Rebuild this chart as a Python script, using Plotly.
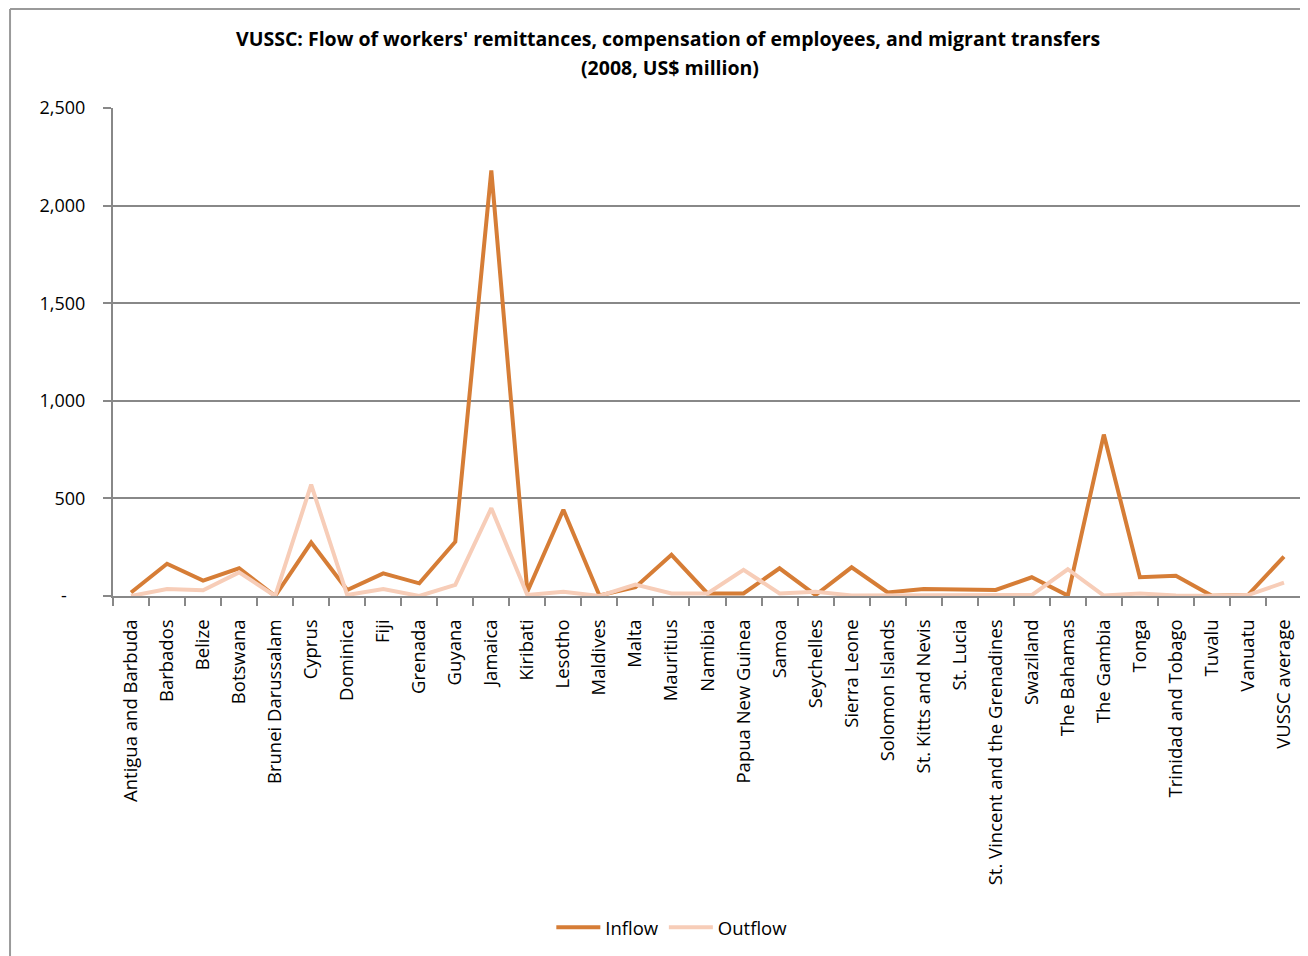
import plotly.graph_objects as go

countries = [
    "Antigua and Barbuda", "Barbados", "Belize", "Botswana", "Brunei Darussalam",
    "Cyprus", "Dominica", "Fiji", "Grenada", "Guyana", "Jamaica", "Kiribati",
    "Lesotho", "Maldives", "Malta", "Mauritius", "Namibia", "Papua New Guinea",
    "Samoa", "Seychelles", "Sierra Leone", "Solomon Islands", "St. Kitts and Nevis",
    "St. Lucia", "St. Vincent and the Grenadines", "Swaziland", "The Bahamas",
    "The Gambia", "Tonga", "Trinidad and Tobago", "Tuvalu", "Vanuatu", "VUSSC average",
]
inflow = [18, 165, 79, 142, 0, 274, 31, 116, 65, 278, 2180, 22, 442, 3, 45, 211, 13,
          13, 142, 5, 147, 18, 36, 31, 31, 96, 2, 827, 96, 104, 1, 5, 202]
outflow = [0, 36, 29, 121, 0, 570, 5, 36, 0, 57, 450, 5, 22, 0, 58, 13, 13,
           134, 13, 22, 3, 3, 7, 5, 5, 5, 137, 2, 13, 2, 1, 5, 68]

y_ticks = [0, 500, 1000, 1500, 2000, 2500]
y_ticktext = ["-\u00a0\u00a0\u00a0\u00a0", "500", "1,000", "1,500", "2,000", "2,500"]

title_line1 = "<b>VUSSC: Flow of workers' remittances, compensation of employees, and migrant transfers</b>"
title_line2 = "<b>(2008, US$ million)</b>"

FONT = "Open Sans"
GRAY = "#888888"

fig = go.Figure()
fig.add_trace(go.Scatter(x=countries, y=inflow, name="Inflow", mode="lines",
                         line=dict(color="#D67D36", width=4)))
fig.add_trace(go.Scatter(x=countries, y=outflow, name="Outflow", mode="lines",
                         line=dict(color="#F7CDB8", width=4)))

fig.update_layout(
    width=1300, height=948,
    margin=dict(l=105, r=6, t=100, b=360),
    paper_bgcolor="white", plot_bgcolor="white",
    font=dict(family=FONT, size=18, color="black"),
    showlegend=True,
    legend=dict(orientation="h", x=0.470, xanchor="center", y=-0.680, yanchor="middle",
                font=dict(family=FONT, size=18.5), itemwidth=44),
    xaxis=dict(
        type="category", range=[-0.5, 32.5], tickangle=-90,
        showline=True, linecolor=GRAY, linewidth=2,
        ticks="outside", tickson="boundaries", ticklen=8, tickcolor=GRAY, tickwidth=1.5,
        showgrid=False, tickfont=dict(family=FONT, size=18.5),
        ticklabelstandoff=14,
    ),
    yaxis=dict(
        range=[0, 2500], tickvals=y_ticks, ticktext=y_ticktext,
        showline=True, linecolor=GRAY, linewidth=2,
        ticks="outside", ticklen=8, tickcolor=GRAY, tickwidth=1.5,
        showgrid=True, gridcolor=GRAY, gridwidth=2, zeroline=False,
        tickfont=dict(family=FONT, size=18),
        ticklabelstandoff=14,
    ),
    annotations=[
        dict(text=title_line1, xref="paper", yref="paper", x=0.467, y=1.1434,
             xanchor="center", yanchor="middle", showarrow=False,
             font=dict(family=FONT, size=19.5, color="black")),
        dict(text=title_line2, xref="paper", yref="paper", x=0.4685, y=1.082,
             xanchor="center", yanchor="middle", showarrow=False,
             font=dict(family=FONT, size=19.5, color="black")),
    ],
    shapes=[
        dict(type="line", xref="paper", yref="paper", x0=-0.0866, x1=1.01, y0=1.2029, y1=1.2029,
             line=dict(color="#9a9a9a", width=2)),
        dict(type="line", xref="paper", yref="paper", x0=-0.0866, x1=-0.0866, y0=1.2029, y1=-0.75,
             line=dict(color="#9a9a9a", width=2)),
    ],
)

fig.write_html("out.html")
